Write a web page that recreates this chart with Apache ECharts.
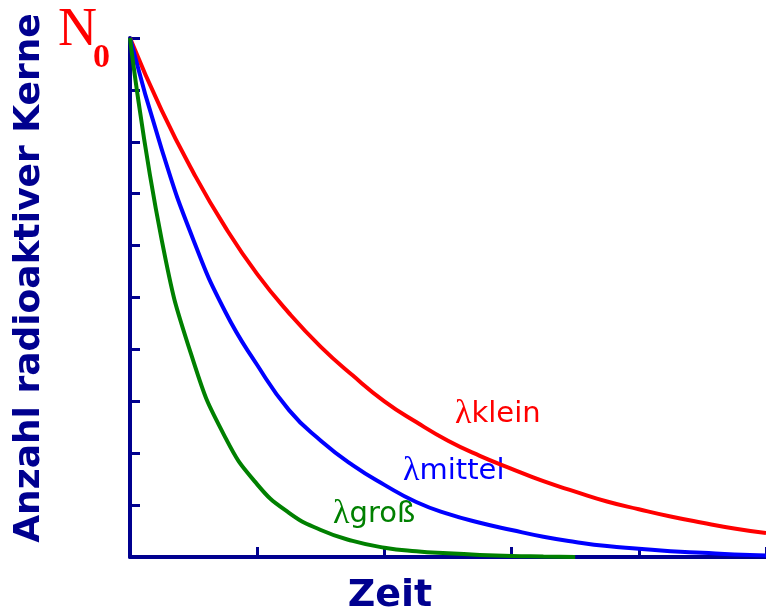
<!DOCTYPE html>
<html>
<head>
<meta charset="utf-8">
<script src="https://cdn.jsdelivr.net/npm/echarts@6/dist/echarts.min.js"></script>
<style>
  html, body { margin: 0; padding: 0; background: #fff; }
  #chart { width: 766px; height: 612px; }
</style>
</head>
<body>
<div id="chart"></div>
<script>
// time steps (x axis, one tick = 1 unit)
const zeit = [0, 0.25, 0.5, 0.75, 1, 1.25, 1.5, 1.75, 2, 2.25, 2.5, 2.75, 3, 3.25, 3.5, 3.75, 4, 4.25, 4.5, 4.75, 5]

// number of nuclei, N0 = 10
const kernKlein = [10, 8.6, 7.4, 6.35, 5.45, 4.7, 4.05, 3.5, 3.0, 2.6, 2.24, 1.95, 1.7, 1.46, 1.26, 1.07, 0.92, 0.78, 0.66, 0.55, 0.46]
const kernMittel = [10, 7.85, 6.1, 4.72, 3.7, 2.83, 2.24, 1.77, 1.39, 1.06, 0.83, 0.66, 0.52, 0.39, 0.29, 0.21, 0.16, 0.11, 0.08, 0.05, 0.03]
const kernGross = [10, 6.1, 3.76, 2.3, 1.4, 0.85, 0.52, 0.31, 0.18, 0.11, 0.07, 0.04, 0.02, 0.01, 0]

const navy = '#00008f'

const pairs = (ys) => ys.map((v, i) => [zeit[i], v])

const chart = echarts.init(document.getElementById('chart'))

const lineSeries = (name, data, color) => ({
  name,
  type: 'line',
  data: pairs(data),
  smooth: true,
  symbol: 'none',
  lineStyle: { color, width: 4 },
  animation: false,
  z: 3
})

const lambdaLabel = (x, y, word, color) => ({
  type: 'text',
  x, y,
  style: {
    text: '{l|λ}{t|' + word + '}',
    verticalAlign: 'middle',
    rich: {
      l: { fontFamily: 'Liberation Serif', fontSize: 34, fill: color },
      t: { fontFamily: 'DejaVu Sans', fontSize: 29, fill: color }
    }
  }
})

chart.setOption({
  grid: { left: 130, top: 38, width: 640, height: 519 },
  xAxis: {
    type: 'value',
    min: 0,
    max: 5,
    interval: 1,
    axisLine: { show: true, lineStyle: { color: navy, width: 4 } },
    axisTick: { show: true, inside: true, length: 10, lineStyle: { color: navy, width: 3 } },
    axisLabel: { show: false },
    splitLine: { show: false }
  },
  yAxis: {
    type: 'value',
    min: 0,
    max: 10,
    interval: 1,
    axisLine: { show: true, lineStyle: { color: navy, width: 4 } },
    axisTick: { show: true, inside: true, length: 10, lineStyle: { color: navy, width: 3 } },
    axisLabel: { show: false },
    splitLine: { show: false }
  },
  series: [
    lineSeries('klein', kernKlein, '#ff0000'),
    lineSeries('mittel', kernMittel, '#0000ff'),
    lineSeries('groß', kernGross, '#008000')
  ],
  graphic: [
    {
      type: 'text',
      x: 30, y: 278, rotation: Math.PI / 2,
      style: {
        text: 'Anzahl radioaktiver Kerne',
        font: 'bold 36px "DejaVu Sans"',
        fill: navy,
        align: 'center',
        verticalAlign: 'middle'
      }
    },
    {
      type: 'text',
      x: 390, y: 596,
      style: {
        text: 'Zeit',
        font: 'bold 38px "DejaVu Sans"',
        fill: navy,
        align: 'center',
        verticalAlign: 'middle'
      }
    },
    {
      type: 'text',
      x: 58, y: 31,
      style: {
        text: 'N',
        font: '54px "Liberation Serif"',
        fill: '#ff0000',
        verticalAlign: 'middle'
      }
    },
    {
      type: 'text',
      x: 93, y: 58,
      style: {
        text: '0',
        font: 'bold 34px "Liberation Serif"',
        fill: '#ff0000',
        verticalAlign: 'middle'
      }
    },
    lambdaLabel(455, 414, 'klein', '#ff0000'),
    lambdaLabel(403, 471, 'mittel', '#0000ff'),
    lambdaLabel(333, 514, 'groß', '#008000')
  ]
})
</script>
</body>
</html>
